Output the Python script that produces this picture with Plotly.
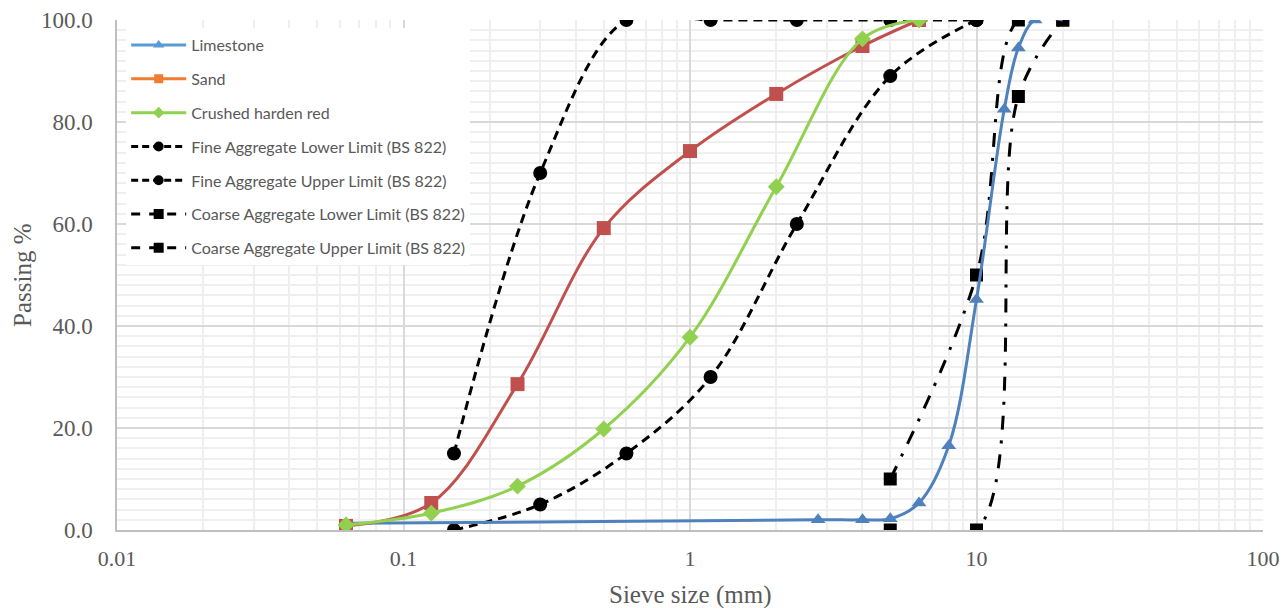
import plotly.graph_objects as go

# ---- data ----
lime_x = [0.063, 2.8, 4, 5, 6.3, 8, 10, 12.5, 14, 16, 20]
lime_y = [1.3, 2.0, 2.0, 2.2, 5.3, 16.5, 45.2, 82.5, 94.5, 100, 100]
lime_mx = [0.063, 2.8, 4, 5, 6.3, 8, 10, 12.5, 14, 16]
lime_my = [1.3, 2.0, 2.0, 2.2, 5.3, 16.5, 45.2, 82.5, 94.5, 100]

sand_x = [0.063, 0.125, 0.25, 0.5, 1, 2, 4, 6.3]
sand_y = [0.8, 5.3, 28.6, 59.2, 74.3, 85.5, 94.9, 100]

red_x = [0.063, 0.125, 0.25, 0.5, 1, 2, 4, 6.3]
red_y = [1.0, 3.3, 8.6, 19.8, 37.8, 67.3, 96.3, 100]

fine_x = [0.15, 0.3, 0.6, 1.18, 2.36, 5, 10]
fine_low = [0, 5, 15, 30, 60, 89, 100]
fine_up = [15, 70, 100, 100, 100, 100, 100]

coarse_x = [5, 10, 14, 20]
coarse_low = [0, 0, 85, 100]
coarse_up = [10, 50, 100, 100]

x_tick_vals = [0.01, 0.1, 1, 10, 100]
x_tick_text = ["0.01", "0.1", "1", "10", "100"]

x_title = "Sieve size (mm)"
y_title = "Passing %"

names = ["Limestone", "Sand", "Crushed harden red",
         "Fine Aggregate Lower Limit (BS 822)", "Fine Aggregate Upper Limit (BS 822)",
         "Coarse Aggregate Lower Limit (BS 822)", "Coarse Aggregate Upper Limit (BS 822)"]

# ---- styles ----
C_LIME = "#4F81BD"
C_SAND = "#C0504D"
C_RED = "#92D050"
L_LIME = "#5B9BD5"
L_SAND = "#ED7D31"
L_RED = "#92D050"
FINE_DASH = "9px,6px"
COARSE_DASH = "14px,11px,3px,11px"

fig = go.Figure()

def add(x, y, name, color, symbol, msize, dash="solid", width=3, mode="lines+markers"):
    fig.add_trace(go.Scatter(
        x=x, y=y, mode=mode, name=name, showlegend=False,
        line=dict(color=color, width=width, dash=dash, shape="spline", smoothing=1.0),
        marker=dict(symbol=symbol, size=msize, color=color, line=dict(width=0)),
        hoverinfo="skip", cliponaxis=True))

# drawn traces (no legend)
add(fine_x, fine_low, names[3], "black", "circle", 14, dash=FINE_DASH)
add(fine_x, fine_up, names[4], "black", "circle", 14, dash=FINE_DASH)
add(coarse_x, coarse_low, names[5], "black", "square", 13, dash=COARSE_DASH)
add(coarse_x, coarse_up, names[6], "black", "square", 13, dash=COARSE_DASH)
add(lime_x, lime_y, names[0], C_LIME, "triangle-up", 13, mode="lines")
add(lime_mx, lime_my, names[0], C_LIME, "triangle-up", 13, mode="markers")
add(sand_x, sand_y, names[1], C_SAND, "square", 14)
add(red_x, red_y, names[2], C_RED, "diamond", 13)

# legend-only entries
leg = [
    (names[0], L_LIME, "triangle-up", 10, "solid", "g1"),
    (names[1], L_SAND, "square", 9, "solid", "g2"),
    (names[2], L_RED, "diamond", 9, "solid", "g3"),
    (names[3], "black", "circle", 10, "7px,4px", "g4"),
    (names[4], "black", "circle", 10, "7px,4px", "g5"),
    (names[5], "black", "square", 10, "9px,9px", "g6"),
    (names[6], "black", "square", 10, "9px,9px", "g7"),
]
for n, c, s, ms, d, g in leg:
    fig.add_trace(go.Scatter(
        x=[None], y=[None], mode="lines+markers", name=n, legendgroup=g,
        line=dict(color=c, width=3, dash=d),
        marker=dict(symbol=s, size=ms, color=c), hoverinfo="skip"))

grid_major = "#D9D9D9"
grid_minor = "#EFEFEF"
minor_x = [m * 10 ** e for e in range(-2, 2) for m in range(2, 10)]
TXT = "#595959"

fig.update_layout(
    width=1284, height=608,
    margin=dict(l=117, r=21, t=20, b=78),
    paper_bgcolor="white", plot_bgcolor="white",
    font=dict(family="Liberation Serif", color=TXT),
    showlegend=True,
    legend=dict(
        x=0.008, y=0.984, xanchor="left", yanchor="top",
        bgcolor="white", borderwidth=0,
        font=dict(family="Lato", size=16, color=TXT),
        tracegroupgap=10, itemwidth=55, traceorder="grouped"),
    xaxis=dict(
        type="log", range=[-2, 2], automargin=False,
        tickmode="array", tickvals=x_tick_vals, ticktext=x_tick_text,
        showgrid=True, gridcolor=grid_major, gridwidth=1.5,
        minor=dict(tickmode="array", tickvals=minor_x, showgrid=True, gridcolor=grid_minor, gridwidth=1.5, ticks=""),
        showline=True, linecolor="#BFBFBF", linewidth=1.5,
        ticks="", ticklabelstandoff=8,
        tickfont=dict(family="Liberation Serif", size=22, color=TXT),
        zeroline=False),
    yaxis=dict(
        range=[0, 100], dtick=20, tickformat=".1f", automargin=False,
        showgrid=True, gridcolor=grid_major, gridwidth=1.5,
        minor=dict(dtick=2, showgrid=True, gridcolor=grid_minor, gridwidth=1.5, ticks=""),
        showline=True, linecolor="#BFBFBF", linewidth=1.5,
        ticks="", ticklabelstandoff=18,
        tickfont=dict(family="Liberation Serif", size=23, color=TXT),
        zeroline=False),
    annotations=[
        dict(text=x_title, xref="paper", yref="paper", x=0.5, y=-0.1275,
             xanchor="center", yanchor="middle", showarrow=False,
             font=dict(family="Liberation Serif", size=25, color=TXT)),
        dict(text=y_title, xref="paper", yref="paper", x=-0.083, y=0.5,
             xanchor="center", yanchor="middle", showarrow=False, textangle=-90,
             font=dict(family="Liberation Serif", size=25, color=TXT)),
    ],
    hovermode=False,
)

fig.write_html("out.html", config={"displayModeBar": False},
               post_script="document.body.style.margin='0';document.body.style.overflow='hidden';")
